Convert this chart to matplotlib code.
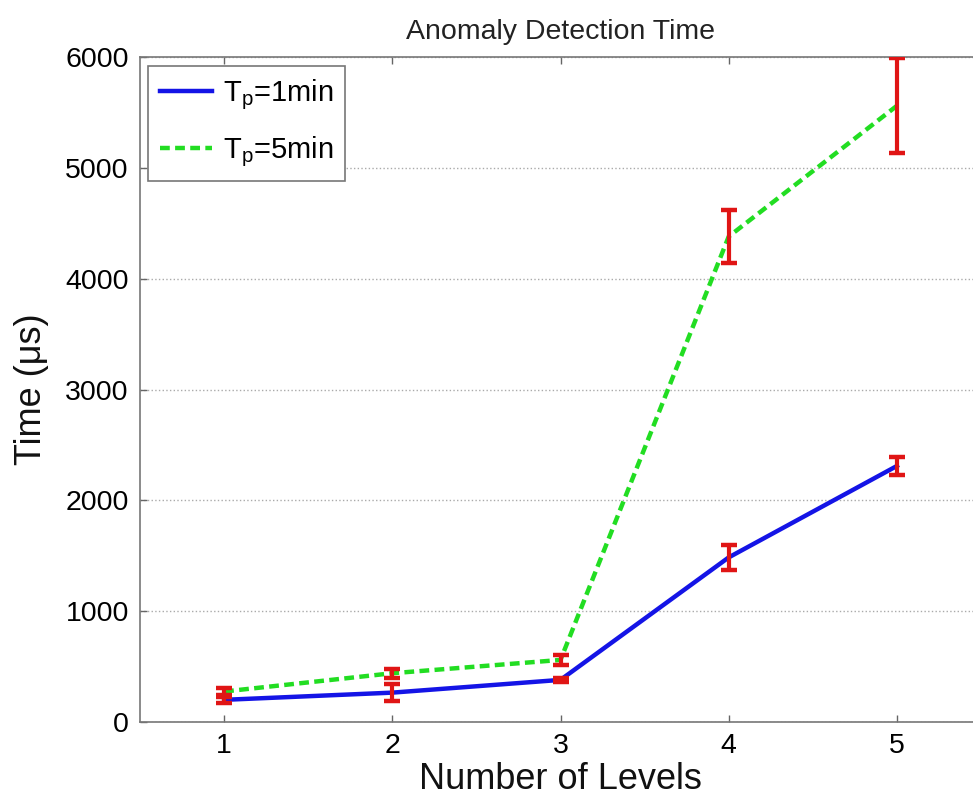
import matplotlib
matplotlib.use("Agg")
import matplotlib.pyplot as plt

plt.rcParams['font.family'] = ['Liberation Sans', 'DejaVu Sans']
plt.rcParams['mathtext.default'] = 'regular'

levels = [1, 2, 3, 4, 5]
t1_mean = [200, 265, 380, 1485, 2310]
t1_err = [30, 80, 20, 110, 80]
t5_mean = [275, 440, 560, 4380, 5560]
t5_err = [30, 40, 45, 240, 430]
labels = [r'T$_{p}$=1min', r'T$_{p}$=5min']
yticks = [0, 1000, 2000, 3000, 4000, 5000, 6000]

fig = plt.figure(figsize=(9.73, 7.97), dpi=100)
ax = fig.add_axes([140/973, 75/797, (981-140)/973, (722-57)/797])

ax.plot(levels, t1_mean, color='#1414e6', lw=3.2, label=labels[0], zorder=3)
ax.plot(levels, t5_mean, color='#22dd22', lw=3.2, dashes=(2.2, 1.2), label=labels[1], zorder=3)
ax.errorbar(levels, t1_mean, yerr=t1_err, fmt='none', ecolor='#e01515', elinewidth=3,
            capsize=5.5, capthick=3.2, zorder=4)
ax.errorbar(levels, t5_mean, yerr=t5_err, fmt='none', ecolor='#e01515', elinewidth=3,
            capsize=5.5, capthick=3.2, zorder=4)

ax.set_xlim(0.5, 5.5)
ax.set_ylim(0, 6000)
ax.set_xticks(levels)
ax.set_yticks(yticks)
ax.tick_params(direction='in', length=5, width=1, color='#666666', labelsize=20.5,
               top=True, right=True, pad=8)
for s in ax.spines.values():
    s.set_color('#777777')
    s.set_linewidth(1.2)
ax.yaxis.grid(True, linestyle=':', color='#aaaaaa', lw=1)
ax.set_axisbelow(True)

ax.set_title('Anomaly Detection Time', fontsize=20.5, pad=13, color='#222222')
ax.set_xlabel('Number of Levels', fontsize=26, labelpad=2, color='#111111')
ax.set_ylabel('Time (\u03bcs)', fontsize=26, labelpad=12, color='#111111')

leg = ax.legend(loc='upper left', bbox_to_anchor=(0.009, 0.987), fontsize=21,
                handlelength=1.8, handletextpad=0.35, borderpad=0.42, labelspacing=0.75,
                fancybox=False, framealpha=1, edgecolor='#777777', borderaxespad=0)
leg.get_frame().set_linewidth(1.2)

fig.savefig('out.png', dpi=100)
